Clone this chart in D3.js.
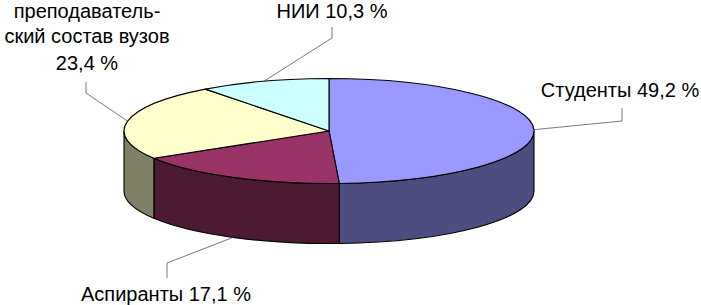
<!DOCTYPE html>
<html><head><meta charset="utf-8">
<script src="https://cdn.jsdelivr.net/npm/d3@7/dist/d3.min.js"></script>
<style>html,body{margin:0;padding:0;background:#fff;overflow:hidden}svg{display:block}</style>
</head><body>
<svg id="chart" width="701" height="305"></svg>
<script>
// Data
const categories = ["Студенты", "Аспиранты", "преподавательский состав вузов", "НИИ"];
const values = [49.2, 17.1, 23.4, 10.3];
const valueLabels = ["49,2 %", "17,1 %", "23,4 %", "10,3 %"];
const topColors = ["#9999ff", "#993366", "#ffffcc", "#ccffff"];
const sideColors = ["#4d4d80", "#4d1a33", "#808066", "#668080"];

// Layout
const W = 701, H = 305;
const cx = 329, cy = 131, rx = 205, ry = 52.5, depth = 60;
const svg = d3.select("#chart");

const pie = d3.pie().sort(null).value(d => d)(values);

const P = (a, dy = 0) => [cx + rx * Math.sin(a), cy - ry * Math.cos(a) + dy];

// Sides (visible front half: PI/2 .. 3PI/2)
const sideG = svg.append("g");
pie.forEach((s, i) => {
  const a0 = Math.max(s.startAngle, Math.PI / 2);
  const a1 = Math.min(s.endAngle, 3 * Math.PI / 2);
  if (a1 <= a0) return;
  const p0 = P(a0), p1 = P(a1), q1 = P(a1, depth), q0 = P(a0, depth);
  const large = (a1 - a0) > Math.PI ? 1 : 0;
  const d = `M${p0}A${rx},${ry} 0 ${large} 1 ${p1}L${q1}A${rx},${ry} 0 ${large} 0 ${q0}Z`;
  sideG.append("path").attr("d", d).attr("fill", sideColors[i])
    .attr("stroke", "#000").attr("stroke-width", 1.1).attr("stroke-linejoin", "round");
});

// Tops
const topG = svg.append("g");
pie.forEach((s, i) => {
  const p0 = P(s.startAngle), p1 = P(s.endAngle);
  const large = (s.endAngle - s.startAngle) > Math.PI ? 1 : 0;
  const d = `M${cx},${cy}L${p0}A${rx},${ry} 0 ${large} 1 ${p1}Z`;
  topG.append("path").attr("d", d).attr("fill", topColors[i])
    .attr("stroke", "#000").attr("stroke-width", 1.1).attr("stroke-linejoin", "round");
});

// Leader lines and labels
const font = "'Liberation Sans', Arial, sans-serif";
const labelLayout = [
  { elbow: [622, 121], end: [622, 108], lines: [categories[0] + " " + valueLabels[0]], tx: 620, ty: [97] },
  { elbow: [167, 263], end: [167, 278], lines: [categories[1] + " " + valueLabels[1]], tx: 166, ty: [301] },
  { elbow: [86, 93], end: [86, 82], lines: ["преподаватель-", "ский состав вузов", valueLabels[2]], tx: 87, ty: [18, 43, 70] },
  { elbow: [332, 38], end: [332, 27], lines: [categories[3] + " " + valueLabels[3]], tx: 332, ty: [18] }
];
const lineG = svg.append("g");
const textG = svg.append("g");
pie.forEach((s, i) => {
  const mid = (s.startAngle + s.endAngle) / 2;
  const front = Math.cos(mid) < -0.3;
  const start = P(mid, front ? depth : 0);
  const L = labelLayout[i];
  lineG.append("polyline").attr("points", [start, L.elbow, L.end].join(" "))
    .attr("fill", "none").attr("stroke", "#555").attr("stroke-width", 0.8);
  L.lines.forEach((line, j) => {
    textG.append("text").attr("x", L.tx).attr("y", L.ty[j])
      .attr("text-anchor", "middle").attr("font-family", font).attr("font-size", 20)
      .attr("fill", "#000").text(line);
  });
});
</script>
</body></html>
